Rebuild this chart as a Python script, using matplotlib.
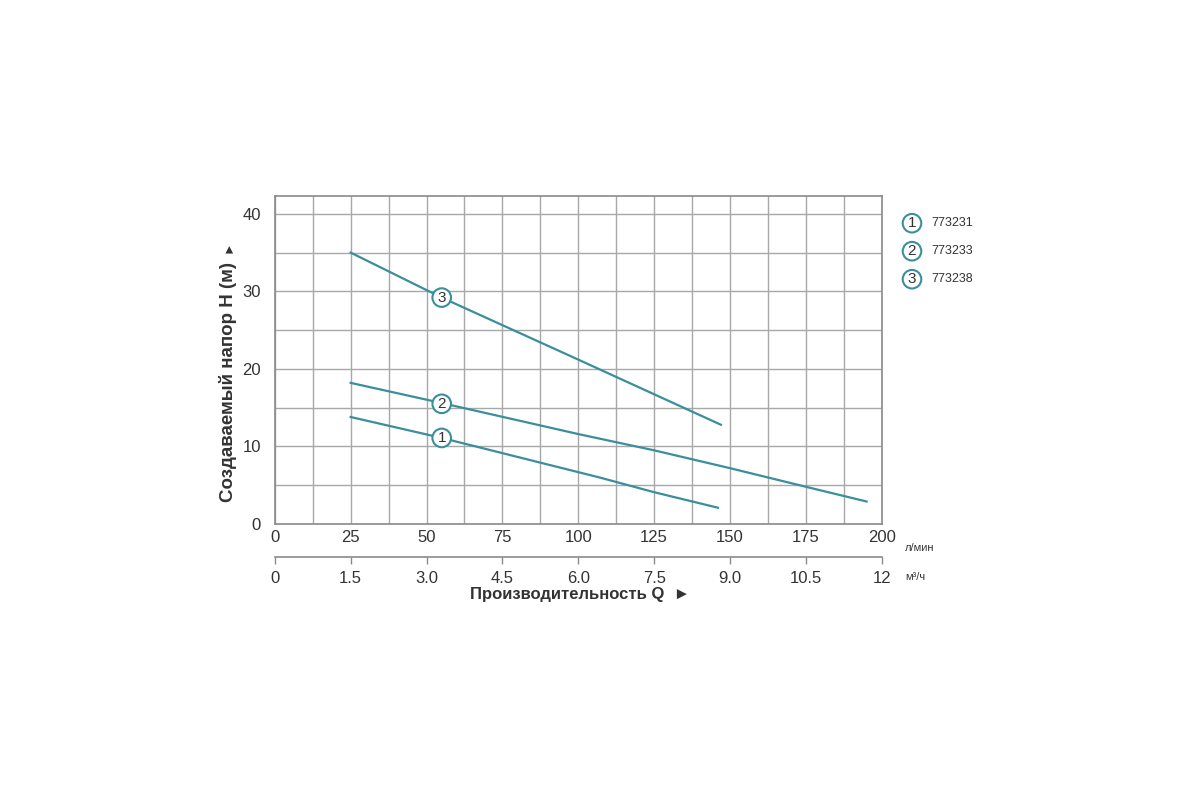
import matplotlib.pyplot as plt
import numpy as np

plt.rcParams['font.family'] = ['Liberation Sans', 'DejaVu Sans']

# Flow (l/min) and head (m)
q1 = [25, 55, 107, 125, 146]
h1 = [13.8, 11.1, 6.0, 4.1, 2.1]

q2 = [25, 55, 100, 125, 150, 175, 195]
h2 = [18.2, 15.6, 11.6, 9.5, 7.2, 4.8, 2.9]

q3 = [25, 55, 100, 147]
h3 = [35.0, 29.2, 21.2, 12.8]

curves = [(q1, h1), (q2, h2), (q3, h3)]
label_pos = [(55, 11.1), (55, 15.5), (55, 29.2)]
models = ['773231', '773233', '773238']

x_ticks = [0, 25, 50, 75, 100, 125, 150, 175, 200]
m3_ticks = [0, 1.5, 3.0, 4.5, 6.0, 7.5, 9.0, 10.5, 12]
m3_labels = ['0', '1.5', '3.0', '4.5', '6.0', '7.5', '9.0', '10.5', '12']
y_ticks = [0, 10, 20, 30, 40]

line_col = '#3a8f9b'
grid_col = '#a8a8a8'
text_col = '#333333'

fig = plt.figure(figsize=(12, 8), dpi=100)
ax = fig.add_axes([0.229, 0.345, 0.5058, 0.41])

ax.set_xlim(0, 200)
ax.set_ylim(0, 42.3)

# grid every 12.5 l/min and every 5 m
ax.set_xticks(x_ticks)
ax.set_yticks(y_ticks)
ax.set_xticks(np.arange(12.5, 200, 25), minor=True)
ax.set_yticks(np.arange(5, 42, 10), minor=True)
ax.grid(which='both', color=grid_col, linewidth=1.0)
ax.set_axisbelow(True)
for s in ax.spines.values():
    s.set_color('#8a8a8a')
    s.set_linewidth(1.2)

ax.tick_params(which='both', length=0)
ax.tick_params(axis='x', labelsize=12, colors=text_col, pad=4)
ax.tick_params(axis='y', labelsize=12, colors=text_col, pad=10)

for (q, h), (lx, ly), num in zip(curves, label_pos, ['1', '2', '3']):
    ax.plot(q, h, color=line_col, linewidth=1.6)
    ax.text(lx, ly, num, ha='center', va='center', fontsize=11, color=text_col,
            bbox=dict(boxstyle='circle,pad=0.15', fc='white', ec=line_col, lw=1.5))

# second flow axis in m3/h
sec = ax.secondary_xaxis(-0.1, functions=(lambda x: x * 0.06, lambda x: x / 0.06))
sec.set_ticks(m3_ticks)
sec.set_xticklabels(m3_labels)
sec.spines['bottom'].set_color('#8a8a8a')
sec.spines['bottom'].set_linewidth(1.2)
sec.tick_params(axis='x', direction='out', length=5, width=1, color='#8a8a8a',
                labelsize=12, labelcolor=text_col, pad=5)

fig.text(0.754, 0.315, 'л/мин', fontsize=8, color=text_col, ha='left', va='center')
fig.text(0.754, 0.279, 'м³/ч', fontsize=8, color=text_col, ha='left', va='center')

fig.text(0.483, 0.257, 'Производительность Q  ►', fontsize=12, fontweight='bold',
         color=text_col, ha='center', va='center')
fig.text(0.19, 0.523, 'Создаваемый напор H (м)', fontsize=13.5, fontweight='bold',
         color=text_col, ha='center', va='center', rotation=90)
fig.text(0.19, 0.692, '►', fontsize=9, color=text_col, ha='center', va='center',
         rotation=90)

# model legend
for i, (num, name) in enumerate(zip(['1', '2', '3'], models)):
    yy = 0.721 - i * 0.035
    fig.text(0.760, yy, num, fontsize=11, color=text_col, ha='center', va='center',
             bbox=dict(boxstyle='circle,pad=0.15', fc='white', ec=line_col, lw=1.5))
    fig.text(0.776, yy, name, fontsize=9, color=text_col, ha='left', va='center')

fig.savefig('out.png', dpi=100, facecolor='white')
